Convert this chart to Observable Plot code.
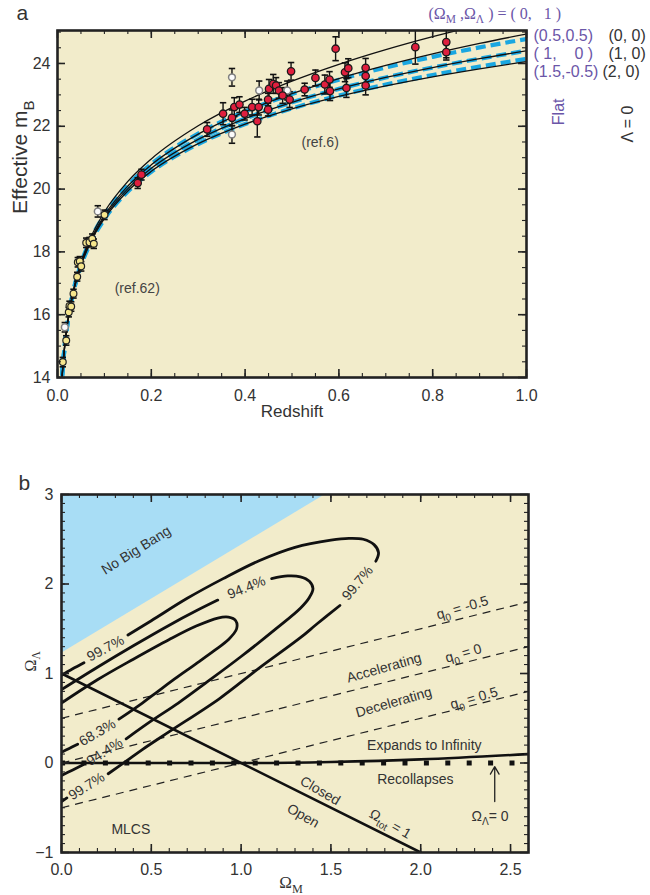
<!DOCTYPE html>
<html><head><meta charset="utf-8">
<script src="https://cdn.jsdelivr.net/npm/d3@7"></script>
<script src="https://cdn.jsdelivr.net/npm/@observablehq/plot@0.6"></script>
<style>
body{margin:0;background:#fff;font-family:"Liberation Sans",Arial,sans-serif;}
#wrap{width:650px;}
svg{display:block;}
</style></head><body><div id="wrap"></div>
<script>
// ---------------- Panel a data ----------------
const zGrid = [0.008,0.01,0.015,0.02,0.03,0.05,0.07,0.1,0.15,0.2,0.3,0.4,0.5,0.6,0.7,0.8,0.9,1.0];
const m_0_1   = [13.592,14.082,14.973,15.608,16.510,17.661,18.433,19.267,20.244,20.961,22.016,22.801,23.436,23.972,24.438,24.852,25.225,25.565];
const m_0_0   = [13.584,14.071,14.957,15.587,16.478,17.609,18.360,19.166,20.097,20.772,21.749,22.466,23.040,23.521,23.938,24.306,24.638,24.940];
const m_1_0   = [13.579,14.065,14.949,15.576,16.462,17.581,18.322,19.111,20.015,20.662,21.584,22.245,22.764,23.191,23.555,23.871,24.152,24.404];
const m_2_0   = [13.575,14.060,14.941,15.565,16.446,17.555,18.286,19.060,19.941,20.565,21.446,22.070,22.555,22.951,23.286,23.575,23.831,24.060];
const m_05_05 = [13.586,14.074,14.961,15.592,16.486,17.620,18.375,19.185,20.121,20.796,21.768,22.472,23.026,23.483,23.872,24.211,24.511,24.780];
const m_15_m05= [13.573,14.057,14.937,15.560,16.438,17.544,18.272,19.044,19.923,20.548,21.435,22.070,22.567,22.977,23.327,23.632,23.902,24.146];

// SN points: [redshift, effective mB, error]
const redSN = [[0.171,20.19,0.17],[0.179,20.46,0.17],[0.319,21.90,0.22],[0.353,22.40,0.35],[0.372,22.27,0.25],[0.377,22.61,0.30],[0.388,22.69,0.25],[0.399,22.40,0.20],[0.415,22.61,0.25],[0.426,22.16,0.50],[0.429,22.61,0.25],[0.449,22.53,0.20],[0.449,22.85,0.20],[0.451,23.19,0.30],[0.460,23.35,0.30],[0.466,23.30,0.25],[0.472,23.14,0.25],[0.480,22.98,0.25],[0.495,22.85,0.25],[0.498,23.75,0.28],[0.527,23.17,0.20],[0.550,23.54,0.25],[0.570,23.33,0.30],[0.580,23.49,0.25],[0.581,23.12,0.30],[0.593,24.47,0.38],[0.613,23.72,0.30],[0.620,23.85,0.30],[0.616,23.22,0.30],[0.657,23.86,0.30],[0.657,23.60,0.28],[0.657,23.30,0.30],[0.763,24.52,0.54],[0.829,24.68,0.50],[0.829,24.36,0.25]];
const yellowSN = [[0.0113,14.49,0.15],[0.0186,15.18,0.15],[0.024,16.08,0.15],[0.0256,16.28,0.15],[0.0292,16.26,0.15],[0.0341,16.67,0.14],[0.042,17.21,0.14],[0.0433,17.67,0.15],[0.0475,17.70,0.15],[0.0505,17.54,0.15],[0.0612,18.29,0.15],[0.0682,18.31,0.15],[0.074,18.42,0.15],[0.0774,18.26,0.15],[0.1002,19.18,0.15]];
const openSN = [[0.0156,15.60,0.15],[0.0859,19.29,0.18],[0.372,23.56,0.28],[0.372,21.74,0.28],[0.430,23.14,0.30],[0.490,23.14,0.30]];

const xTicksA = [0,0.2,0.4,0.6,0.8,1.0];
const yTicksA = [14,16,18,20,22,24];

// ---------------- Panel b data ----------------
const c683 = [[0,0.67],[0.2,0.93],[0.4,1.16],[0.6,1.38],[0.75,1.53],[0.87,1.62],[0.93,1.63],[0.97,1.59],[0.975,1.50],[0.93,1.38],[0.85,1.255],[0.75,1.11],[0.63,0.94],[0.53,0.79],[0.45,0.67],[0.32,0.49],null,[0.09,0.21],[0.04,0.16],[0,0.12]];
const c944 = [[0,0.82],[0.2,1.07],[0.4,1.31],[0.6,1.54],[0.75,1.70],[0.87,1.82],null,[1.17,2.06],[1.26,2.09],[1.33,2.08],[1.38,2.03],[1.40,1.95],[1.38,1.85],[1.33,1.73],[1.2,1.51],[1.0,1.19],[0.8,0.89],[0.65,0.67],[0.5,0.47],[0.36,0.27],null,[0.12,-0.02],[0.06,-0.08],[0,-0.14]];
const c997 = [[0,0.98],[0.06,1.05],[0.125,1.12],null,[0.37,1.43],[0.5,1.59],[0.7,1.84],[0.9,2.06],[1.1,2.26],[1.3,2.41],[1.5,2.49],[1.6,2.51],[1.68,2.50],[1.74,2.44],[1.765,2.35],[1.75,2.255],null,[1.55,1.76],[1.42,1.55],[1.33,1.40],[1.1,1.06],[0.88,0.72],[0.6,0.35],[0.45,0.15],[0.36,0.02],[0.26,-0.12],null,[0.03,-0.39],[0,-0.43]];
const qLines = {"-0.5":[[0,0.5],[2.6,1.8]], "0":[[0,0],[2.6,1.3]], "0.5":[[0,-0.5],[2.6,0.8]]};
const omegaTot1 = [[0,1],[2,-1]];
const expandLine = [[0,0],[1,0],[1.5,0.012],[2,0.04],[2.6,0.10]];
const lambda0 = [[0,0],[2.6,0]];
const noBigBang = [[0,1.225],[1.47,3.0]];
const xTicksB = [0,0.5,1.0,1.5,2.0,2.5];
const yTicksB = [-1,0,1,2,3];

const labelsB = [
  {x:0.416,y:2.377,t:"No Big Bang",r:-32},
  {x:0.245,y:1.28,t:"99.7%",r:-28},
  {x:1.03,y:1.96,t:"94.4%",r:-22},
  {x:1.648,y:2.01,t:"99.7%",r:-50},
  {x:0.2,y:0.34,t:"68.3%",r:-30},
  {x:0.24,y:0.125,t:"94.4%",r:-32},
  {x:0.14,y:-0.26,t:"99.7%",r:-32},
  {x:1.796,y:1.063,t:"Accelerating",r:-16},
  {x:1.85,y:0.678,t:"Decelerating",r:-16},
  {x:2.232,y:1.735,t:"q_{0} = -0.5",r:-16},
  {x:2.238,y:1.225,t:"q_{0} = 0",r:-16},
  {x:2.297,y:0.724,t:"q_{0} = 0.5",r:-16},
  {x:2.02,y:0.195,t:"Expands to Infinity",r:0},
  {x:1.97,y:-0.18,t:"Recollapses",r:0},
  {x:0.386,y:-0.74,t:"MLCS",r:0},
  {x:1.44,y:-0.31,t:"Closed",r:30},
  {x:1.345,y:-0.59,t:"Open",r:30},
  {x:1.83,y:-0.68,t:"Ω_{tot} = 1",r:30},
  {x:2.386,y:-0.6,t:"Ω_{Λ}= 0",r:0}
];

// ---------------- helpers ----------------
const cream = "#F2ECCB";
const ink = "#222";
const txt = "#333";
const purple = "#6B56A8";
const capSymbol = {draw(ctx, size){ const r = Math.sqrt(size/Math.PI); ctx.moveTo(-r,0); ctx.lineTo(r,0); }};
const pts = arr => arr.map(([z,m,e]) => ({z,m,e}));
const rows = (arr, name) => arr.map(p => p ? {x:p[0], y:p[1], c:name} : {x:NaN, y:NaN, c:name});

function insideTicks(xMinor, xMajor, yMinor, yMajor, W, H, minL, majL){
  const o = {stroke: ink};
  return [
    Plot.ruleX(xMinor, {x:d=>d, insetTop:H-minL, ...o, strokeWidth:1.1}),
    Plot.ruleX(xMinor, {x:d=>d, insetBottom:H-minL, ...o, strokeWidth:1.1}),
    Plot.ruleX(xMajor, {x:d=>d, insetTop:H-majL, ...o, strokeWidth:1.6}),
    Plot.ruleX(xMajor, {x:d=>d, insetBottom:H-majL, ...o, strokeWidth:1.6}),
    Plot.ruleY(yMinor, {y:d=>d, insetRight:W-minL, ...o, strokeWidth:1.1}),
    Plot.ruleY(yMinor, {y:d=>d, insetLeft:W-minL, ...o, strokeWidth:1.1}),
    Plot.ruleY(yMajor, {y:d=>d, insetRight:W-majL, ...o, strokeWidth:1.6}),
    Plot.ruleY(yMajor, {y:d=>d, insetLeft:W-majL, ...o, strokeWidth:1.6})
  ];
}

function applySubs(svg){
  svg.querySelectorAll("text").forEach(el => {
    if (el.querySelector("tspan")) return;
    const t = el.textContent;
    if (!t.includes("_{")) return;
    const fs = parseFloat(getComputedStyle(el).fontSize) || 14;
    const parts = t.split(/(_\{[^}]*\})/);
    el.textContent = "";
    let prevSub = false;
    for (const p of parts) {
      if (!p) continue;
      const ts = document.createElementNS("http://www.w3.org/2000/svg","tspan");
      if (p.startsWith("_{")) {
        ts.textContent = p.slice(2,-1);
        ts.setAttribute("dy", (0.3*fs).toFixed(1));
        ts.setAttribute("font-size", (0.72*fs).toFixed(1));
        prevSub = true;
      } else {
        ts.textContent = p;
        if (prevSub) ts.setAttribute("dy", (-0.3*fs).toFixed(1));
        prevSub = false;
      }
      el.appendChild(ts);
    }
  });
}

const anno = (s, o) => Plot.text([s], {text: d => d, lineAnchor: "middle", ...o});

// ---------------- Panel a ----------------
const WA = 469, HA = 347;
const blueModels = [["(0.5,0.5)", m_05_05], ["(1,0)f", m_1_0], ["(1.5,-0.5)", m_15_m05]];
const blackModels = [["(0,1)", m_0_1], ["(0,0)", m_0_0], ["(1,0)", m_1_0], ["(2,0)", m_2_0]];
const toCurve = models => models.flatMap(([name, m]) => zGrid.map((z,i) => ({name, z, m: m[i]})));
const red = pts(redSN), yel = pts(yellowSN), opn = pts(openSN);
const allPts = [...yel, ...opn, ...red];

const plotA = Plot.plot({
  width: 650, height: 440,
  marginTop: 30, marginLeft: 57, marginRight: 124, marginBottom: 63,
  x: {domain: [0, 1], ticks: xTicksA, tickFormat: d3.format(".1f"), tickSize: 0, tickPadding: 12, label: null},
  y: {domain: [14, 25.05], ticks: yTicksA, tickFormat: d3.format("d"), tickSize: 0, tickPadding: 7, label: null},
  style: {fontFamily: '"Liberation Sans", Arial, sans-serif', fontSize: "16px", color: txt, background: "transparent"},
  marks: [
    Plot.frame({fill: cream, stroke: "none"}),
    Plot.line(toCurve(blueModels), {x: "z", y: "m", z: "name", stroke: "#1AA7E1", strokeWidth: 4.2, strokeDasharray: "10,5", strokeLinecap: "butt", curve: "monotone-x", clip: true}),
    Plot.line(toCurve(blackModels), {x: "z", y: "m", z: "name", stroke: "#111", strokeWidth: 1.3, curve: "monotone-x", clip: true}),
    Plot.ruleX(allPts, {x: "z", y1: d => d.m - d.e, y2: d => d.m + d.e, stroke: "#111", strokeWidth: 1.4, clip: true}),
    Plot.dot(allPts, {x: "z", y: d => d.m + d.e, symbol: capSymbol, r: 3.2, fill: "none", stroke: "#111", strokeWidth: 1.6, clip: true}),
    Plot.dot(allPts, {x: "z", y: d => d.m - d.e, symbol: capSymbol, r: 3.2, fill: "none", stroke: "#111", strokeWidth: 1.6, clip: true}),
    Plot.dot(opn, {x: "z", y: "m", r: 3.4, fill: "#fbfbfb", stroke: "#808080", strokeWidth: 1.5}),
    Plot.dot(yel, {x: "z", y: "m", r: 3.4, fill: "#F6E68C", stroke: "#222", strokeWidth: 1.2}),
    Plot.dot(red, {x: "z", y: "m", r: 3.7, fill: "#DF1F3E", stroke: "#1a1a1a", strokeWidth: 1.3}),
    Plot.text([{x: 0.56, y: 21.48, t: "(ref.6)"}, {x: 0.17, y: 16.83, t: "(ref.62)"}], {x: "x", y: "y", text: "t", fontSize: 14, fill: "#444"}),
    ...insideTicks(d3.range(0, 1.0001, 0.05), xTicksA, d3.range(14, 25.01, 0.5), yTicksA, WA, HA, 4, 8),
    Plot.frame({stroke: ink, strokeWidth: 2.6}),
    anno("Redshift", {frameAnchor: "bottom", dy: 34, fontSize: 17, fill: txt}),
    anno("Effective m_{B}", {frameAnchor: "left", rotate: -90, dx: -37, dy: 10, fontSize: 21, fill: txt}),
    anno("a", {frameAnchor: "top-left", textAnchor: "start", dx: -41, dy: -17, fontSize: 21, fill: txt}),
    // legend (right margin)
    anno("(Ω_{M} ,Ω_{Λ} ) = ( 0,\u00A0\u00A0 1 )", {frameAnchor: "top-right", textAnchor: "start", dx: -98, dy: -17, fontSize: 16, fontFamily: '"Liberation Serif", serif', fill: purple}),
    anno("(0.5,0.5)", {frameAnchor: "top-right", textAnchor: "start", dx: 7, dy: 5, fontSize: 16, fill: purple}),
    anno("(\u00A01,\u00A0\u00A0\u00A0 0\u00A0)", {frameAnchor: "top-right", textAnchor: "start", dx: 7, dy: 23, fontSize: 16, fill: purple}),
    anno("(1.5,-0.5)", {frameAnchor: "top-right", textAnchor: "start", dx: 7, dy: 41, fontSize: 16, fill: purple}),
    anno("(0, 0)", {frameAnchor: "top-right", textAnchor: "start", dx: 82, dy: 5, fontSize: 16, fill: txt}),
    anno("(1, 0)", {frameAnchor: "top-right", textAnchor: "start", dx: 82, dy: 23, fontSize: 16, fill: txt}),
    anno("(2, 0)", {frameAnchor: "top-right", textAnchor: "start", dx: 76, dy: 41, fontSize: 16, fill: txt}),
    anno("Flat", {frameAnchor: "top-right", rotate: -90, dx: 32, dy: 68, fontSize: 16, fill: purple}),
    anno("Λ = 0", {frameAnchor: "top-right", rotate: -90, dx: 101, dy: 75, fontSize: 16, fill: txt})
  ]
});

// ---------------- Panel b ----------------
const WB = 467, HB = 358;
const contourRows = [...rows(c683, "68.3"), ...rows(c944, "94.4"), ...rows(c997, "99.7")];
const qRows = Object.entries(qLines).flatMap(([q, arr]) => rows(arr, q));

const plotB = Plot.plot({
  width: 650, height: 455,
  marginTop: 54, marginLeft: 61, marginRight: 122, marginBottom: 43,
  x: {domain: [0, 2.6], ticks: xTicksB, tickFormat: d3.format(".1f"), tickSize: 0, tickPadding: 11, label: null},
  y: {domain: [-1, 3], ticks: yTicksB, tickFormat: d3.format("d"), tickSize: 0, tickPadding: 8, label: null},
  style: {fontFamily: '"Liberation Sans", Arial, sans-serif', fontSize: "16px", color: txt, background: "transparent"},
  marks: [
    Plot.frame({fill: cream, stroke: "none"}),
    Plot.areaY(noBigBang, {x: d => d[0], y1: d => d[1], y2: 3, fill: "#A8DDF5", clip: true}),
    Plot.line(qRows, {x: "x", y: "y", z: "c", stroke: "#222", strokeWidth: 1.2, strokeDasharray: "8,6", strokeLinecap: "butt", clip: true}),
    Plot.line(rows(lambda0, "l0"), {x: "x", y: "y", stroke: "#111", strokeWidth: 5, strokeDasharray: "5,16.4", strokeDashoffset: 1.4, strokeLinecap: "butt", clip: true}),
    Plot.line(rows(expandLine, "exp"), {x: "x", y: "y", stroke: "#111", strokeWidth: 2.6, curve: "monotone-x", clip: true}),
    Plot.line(rows(omegaTot1, "tot"), {x: "x", y: "y", stroke: "#111", strokeWidth: 2.6, clip: true}),
    Plot.line(contourRows, {x: "x", y: "y", z: "c", stroke: "#111", strokeWidth: 2.8, curve: "catmull-rom", clip: true}),
    Plot.arrow([{x: 2.412, y1: -0.43, y2: -0.04}], {x1: "x", x2: "x", y1: "y1", y2: "y2", stroke: "#222", strokeWidth: 1.3, headLength: 10}),
    Plot.text(labelsB, {x: "x", y: "y", text: "t", rotate: "r", fontSize: 14, fill: txt}),
    ...insideTicks(d3.range(0, 2.6001, 0.1), xTicksB, d3.range(-1, 3.0001, 0.1), yTicksB, WB, HB, 4, 8),
    Plot.frame({stroke: ink, strokeWidth: 2.6}),
    anno("Ω_{M}", {frameAnchor: "bottom", dx: -4, dy: 30, fontSize: 17, fontFamily: '"Liberation Serif", serif', fill: txt}),
    anno("Ω_{Λ}", {frameAnchor: "left", rotate: -90, dx: -31, dy: -2, fontSize: 16, fontFamily: '"Liberation Serif", serif', fill: txt}),
    anno("b", {frameAnchor: "top-left", textAnchor: "start", dx: -43, dy: -11, fontSize: 21, fill: txt})
  ]
});

const wrap = document.getElementById("wrap");
wrap.appendChild(plotA);
wrap.appendChild(plotB);
applySubs(plotA);
applySubs(plotB);
</script></body></html>
